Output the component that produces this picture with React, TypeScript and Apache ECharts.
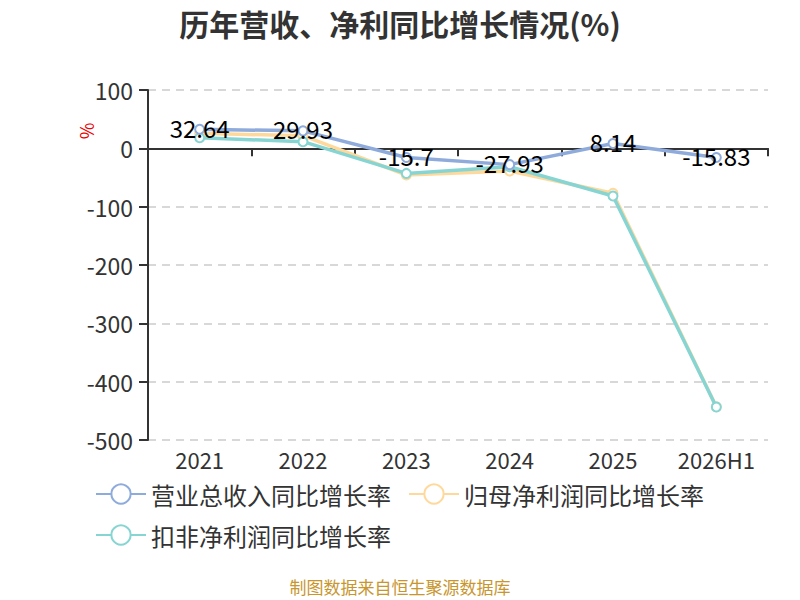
import React, { useEffect, useRef } from "react";
import * as echarts from "echarts";

const categories = ["2021", "2022", "2023", "2024", "2025", "2026H1"];
const revenueGrowth = [32.64, 29.93, -15.7, -27.93, 8.14, -15.83];
const netProfitGrowth = [25.7, 21.6, -45.7, -39.0, -77.0, -443.0];
const deductedProfitGrowth = [18.2, 11.4, -43.0, -31.5, -81.8, -443.5];
const seriesNames = ["营业总收入同比增长率", "归母净利润同比增长率", "扣非净利润同比增长率"];
const colors = ["#8EABDB", "#FFD99C", "#86D5D3"];

const FONT = "'Noto Sans CJK SC', 'Noto Sans', sans-serif";

export default function App() {
  const ref = useRef<HTMLDivElement>(null);
  useEffect(() => {
    if (!ref.current) return;
    const chart = echarts.init(ref.current, undefined, { renderer: "svg" });
    const mk = (name: string, data: number[], color: string, label: boolean, z: number) => ({
      name,
      type: "line",
      data,
      xAxisIndex: 0,
      z,
      symbol: "emptyCircle",
      symbolSize: 9,
      color,
      lineStyle: { color, width: 3.5 },
      itemStyle: { color, borderColor: color, borderWidth: 2 },
      label: label
        ? {
            show: true,
            position: "inside",
            offset: [0, -2],
            color: "#000",
            fontSize: 24,
            fontFamily: FONT,
          }
        : { show: false },
    });
    chart.setOption({
      animation: false,
      textStyle: { fontFamily: FONT },
      title: {
        text: "历年营收、净利同比增长情况(%)",
        left: "center",
        top: 3,
        textStyle: { fontSize: 30, fontWeight: "bold", color: "#333", fontFamily: FONT },
      },
      grid: { left: 148, right: 32, top: 90, bottom: 160, containLabel: false },
      legend: {
        left: 90,
        top: 477,
        width: 640,
        itemWidth: 50,
        itemHeight: 24,
        itemGap: 17,
        textStyle: { fontSize: 24, lineHeight: 24, color: "#333", fontFamily: FONT },
        data: seriesNames,
      },
      xAxis: [
        {
          type: "category",
          data: categories,
          position: "bottom",
          axisLine: { show: false, onZero: false },
          axisTick: { show: false },
          axisLabel: { fontSize: 22, lineHeight: 22, color: "#333", margin: 8, interval: 0, fontFamily: FONT },
        },
        {
          type: "category",
          data: categories,
          position: "bottom",
          axisLine: { show: true, onZero: true, lineStyle: { color: "#333", width: 2 } },
          axisTick: { show: true, length: 8, lineStyle: { color: "#333", width: 2 } },
          axisLabel: { show: false },
        },
      ],
      yAxis: {
        type: "value",
        min: -500,
        max: 100,
        interval: 100,
        axisLine: { show: true, lineStyle: { color: "#333", width: 2 } },
        axisTick: { show: true, length: 9, lineStyle: { color: "#333", width: 2 } },
        axisLabel: { fontSize: 23, color: "#333", margin: 15, fontFamily: FONT },
        splitLine: { show: true, lineStyle: { type: [8, 6], color: "#ccc", width: 1.5 } },
      },
      graphic: [
        {
          type: "text",
          x: 86,
          y: 131,
          rotation: Math.PI / 2,
          style: { text: "%", fill: "#e00", fontSize: 18, fontFamily: FONT, align: "center", verticalAlign: "middle" },
        },
        {
          type: "text",
          x: 400,
          y: 586,
          style: { text: "制图数据来自恒生聚源数据库", fill: "#C8962E", fontSize: 17, fontFamily: FONT, align: "center", verticalAlign: "middle" },
        },
      ],
      series: [
        mk(seriesNames[1], netProfitGrowth, colors[1], false, 2),
        mk(seriesNames[2], deductedProfitGrowth, colors[2], false, 3),
        mk(seriesNames[0], revenueGrowth, colors[0], true, 4),
      ],
    });
    return () => chart.dispose();
  }, []);
  return <div ref={ref} style={{ width: 800, height: 600, position: "absolute", left: 0, top: 0 }} />;
}
